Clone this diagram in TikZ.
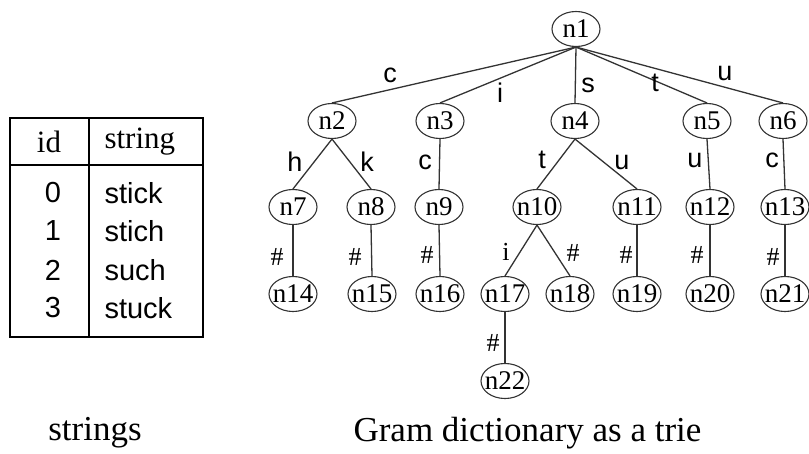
\documentclass[tikz,border=0pt]{standalone}
\usepackage{fontspec}
\setmainfont{Liberation Serif}
\newfontfamily\arialfont{Liberation Sans}
\usetikzlibrary{shapes.geometric}

\tikzset{
  trienode/.style={draw=black!80,ellipse,line width=1.1pt,minimum width=48pt,minimum height=35pt,inner sep=0pt,font=\fontsize{27}{27}\selectfont},
  trieedge/.style={draw=black!80,line width=1.3pt},
  edgelab/.style={font=\arialfont\fontsize{27}{27}\selectfont},
  hashlab/.style={font=\fontsize{26}{26}\selectfont},
  tabhead/.style={font=\fontsize{31}{31}\selectfont},
  tabcell/.style={font=\arialfont\fontsize{29}{29}\selectfont},
  caption/.style={font=\fontsize{35}{35}\selectfont},
}

\begin{document}
\begin{tikzpicture}[x=1pt,y=-1pt]
		\useasboundingbox (0,0) rectangle (809,453);
		% table of strings
		\draw[line width=2.5pt] (10,118) rectangle (203,337);
		\draw[line width=1.5pt] (89,118) -- (89,337);
		\draw[line width=2pt] (10,165) -- (203,165);
		\node[tabhead] (hid) at (49,142) {id};
		\node[tabhead,anchor=west] (hstr) at (101,142) {string};
		\foreach \i/\s/\y in {0/stick/193,1/stich/231,2/such/270,3/stuck/308}{
			\node[tabcell] (id\i) at (53,\y) {\i};
			\node[tabcell,anchor=west] (str\i) at (101,\y) {\s};
		}
		% trie nodes, all of the same size
		\foreach \n/\x/\y in {1/576/29,
		    2/332/121,3/440/121,4/575/121,5/707/121,6/783/121,
		    7/293/207,8/371/207,9/439/207,10/537/207,11/637/207,12/710/207,13/785/207,
		    14/293/294,15/372/294,16/440/294,17/505/294,18/570/294,19/637/294,20/710/294,21/785/294,
		    22/505/381}
			\node[trienode] (n\n) at (\x,\y) {\makebox[0pt]{n\n}};
		% edges
		\foreach \a/\b in {n1/n2,n1/n3,n1/n4,n1/n5,n1/n6,n2/n7,n2/n8,n3/n9,n4/n10,n4/n11,n5/n12,n6/n13,
		                   n7/n14,n8/n15,n9/n16,n10/n17,n10/n18,n11/n19,n12/n20,n13/n21,n17/n22}
			\draw[trieedge] (\a.south) -- (\b.north);
		% edge labels
		\node[edgelab] (lc1) at (390,75) {c};
		\node[edgelab] (li1) at (500,93) {i};
		\node[edgelab] (ls1) at (588,85) {s};
		\node[edgelab] (lt1) at (655,83) {t};
		\node[edgelab] (lu1) at (725,73) {u};
		\node[edgelab] (lh2) at (295,162) {h};
		\node[edgelab] (lk2) at (367,162) {k};
		\node[edgelab] (lc3) at (425,162) {c};
		\node[edgelab] (lt4) at (542,160) {t};
		\node[edgelab] (lu4) at (622,162) {u};
		\node[edgelab] (lu5) at (695,160) {u};
		\node[edgelab] (lc6) at (772,160) {c};
		\node[hashlab] (e7) at (277,257) {\#};
		\node[hashlab] (e8) at (355,257) {\#};
		\node[hashlab] (e9) at (427,255) {\#};
		\node[hashlab] (li10) at (506,252) {i};
		\node[hashlab] (e10) at (573,253) {\#};
		\node[hashlab] (e11) at (626,255) {\#};
		\node[hashlab] (e12) at (697,255) {\#};
		\node[hashlab] (e13) at (773,257) {\#};
		\node[hashlab] (e17) at (493,343) {\#};
		% captions
		\node[caption] (capl) at (95,433) {strings};
		\node[caption,anchor=west] (capr) at (350,433) {Gram dictionary as a trie};
	\end{tikzpicture}
\end{document}
